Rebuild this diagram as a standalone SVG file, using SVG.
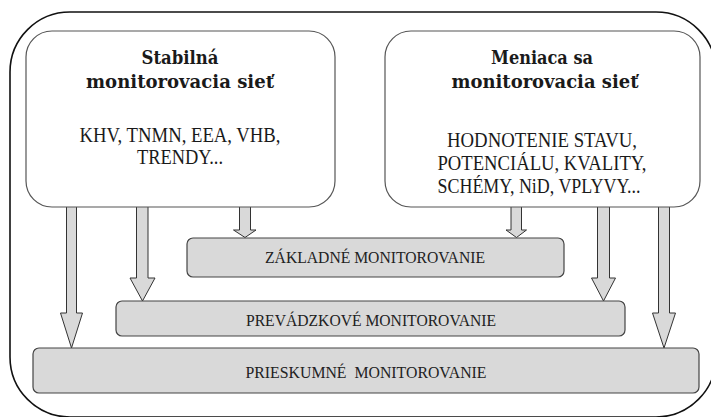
<svg xmlns="http://www.w3.org/2000/svg" width="711" height="417" viewBox="0 0 711 417">
<style>
.frame{fill:none;stroke:#111;stroke-width:1.6}
.big{fill:#fff;stroke:#555;stroke-width:1.2}
.bar{fill:#d9d9d9;stroke:#444;stroke-width:1.2}
.arr{fill:#d9d9d9;stroke:#333;stroke-width:1}
.ttl{font-family:"DejaVu Serif","Liberation Serif",serif;font-weight:bold;font-size:18.5px;fill:#1a1a1a;text-anchor:middle}
.body{font-family:"Liberation Serif",serif;font-size:21px;fill:#1a1a1a;text-anchor:middle}
.lbl{font-family:"Liberation Serif",serif;font-size:17.5px;fill:#222;text-anchor:middle}
</style>
<rect width="711" height="417" fill="#fff"/>
<rect class="frame" x="10" y="12" width="706" height="405" rx="60" ry="60"/>
<g id="connectors">
<polygon class="arr" points="66.5,205 76.5,205 76.5,313 82.5,313 71.5,348 60.5,313 66.5,313"/>
<polygon class="arr" points="136.5,205 148,205 148,278 155,278 142.5,301 130,278 136.5,278"/>
<polygon class="arr" points="239.5,205 250.5,205 250.5,230 256,230 245,237.5 233.5,230 239.5,230"/>
<polygon class="arr" points="511,205 521.5,205 521.5,230 526.5,230 516.5,237.5 506,230 511,230"/>
<polygon class="arr" points="597.5,205 609.5,205 609.5,278 615.5,278 603.5,301 591.5,278 597.5,278"/>
<polygon class="arr" points="658.5,205 669.5,205 669.5,313 675.5,313 664,348 652.5,313 658.5,313"/>
</g>
<g id="stabilna">
<rect class="big" x="26" y="31" width="309" height="176" rx="26" ry="26"/>
<text class="ttl" x="180" y="64" textLength="77" lengthAdjust="spacingAndGlyphs">Stabilná</text>
<text class="ttl" x="180" y="88" textLength="188" lengthAdjust="spacingAndGlyphs">monitorovacia sieť</text>
<text class="body" x="180" y="142" textLength="201" lengthAdjust="spacingAndGlyphs">KHV, TNMN, EEA, VHB,</text>
<text class="body" x="180" y="164" textLength="86" lengthAdjust="spacingAndGlyphs">TRENDY...</text>
</g>
<g id="meniaca">
<rect class="big" x="385" y="31" width="315" height="176" rx="26" ry="26"/>
<text class="ttl" x="542" y="64" textLength="102" lengthAdjust="spacingAndGlyphs">Meniaca sa</text>
<text class="ttl" x="545" y="88" textLength="187" lengthAdjust="spacingAndGlyphs">monitorovacia sieť</text>
<text class="body" x="542" y="147" textLength="190" lengthAdjust="spacingAndGlyphs">HODNOTENIE STAVU,</text>
<text class="body" x="542" y="170" textLength="209" lengthAdjust="spacingAndGlyphs">POTENCIÁLU, KVALITY,</text>
<text class="body" x="539" y="193" textLength="203" lengthAdjust="spacingAndGlyphs">SCHÉMY, NiD, VPLYVY...</text>
</g>
<g id="zakladne">
<rect class="bar" x="187" y="238" width="377" height="39" rx="6" ry="6"/>
<text class="lbl" x="375" y="263" textLength="220" lengthAdjust="spacingAndGlyphs">ZÁKLADNÉ MONITOROVANIE</text>
</g>
<g id="prevadzkove">
<rect class="bar" x="116" y="301" width="509" height="35" rx="6" ry="6"/>
<text class="lbl" x="371" y="325.5" textLength="250" lengthAdjust="spacingAndGlyphs">PREVÁDZKOVÉ MONITOROVANIE</text>
</g>
<g id="prieskumne">
<rect class="bar" x="33" y="348" width="666" height="45" rx="6" ry="6"/>
<text class="lbl" x="366" y="377.5" textLength="241" lengthAdjust="spacingAndGlyphs" xml:space="preserve">PRIESKUMNÉ  MONITOROVANIE</text>
</g>
</svg>
